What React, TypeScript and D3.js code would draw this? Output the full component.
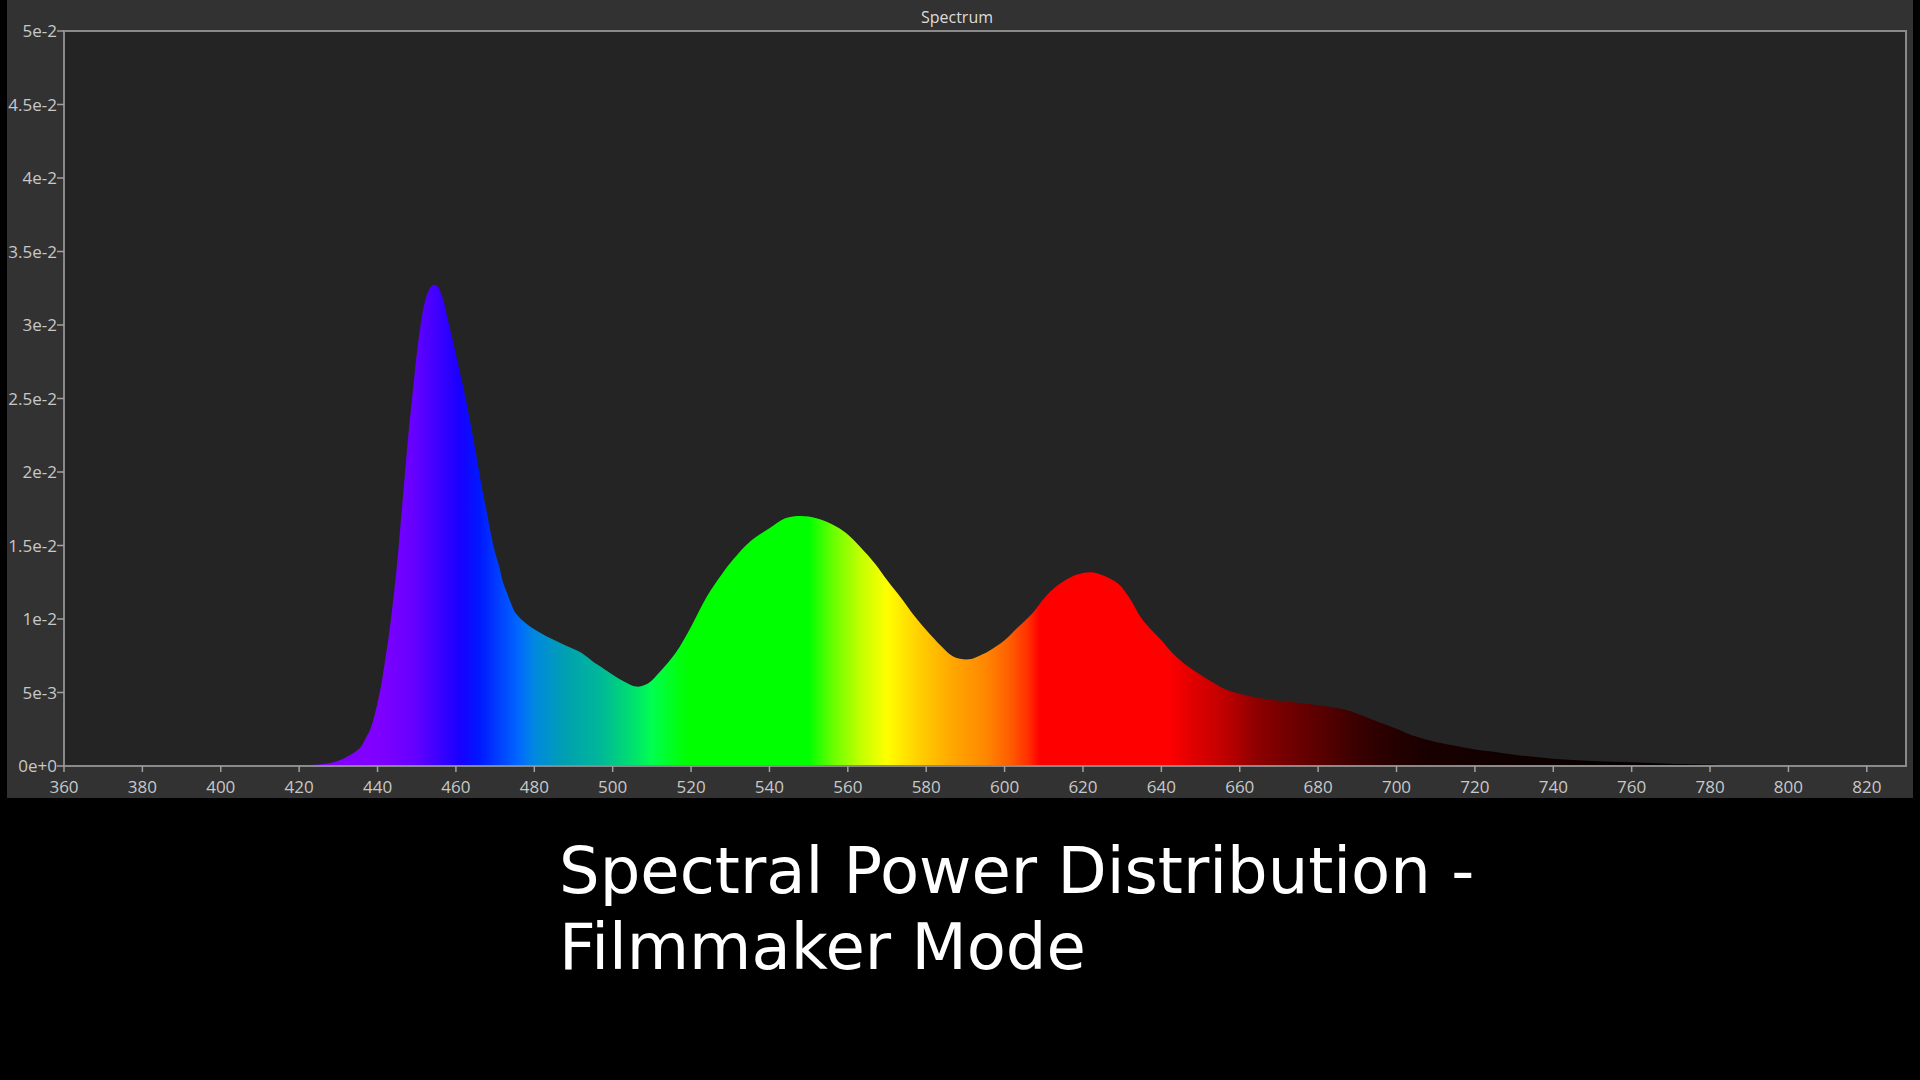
import React from "react";
import * as d3 from "d3";

const wavelengths = [
  360, 400, 410, 415, 420, 425, 428, 430, 432, 434, 435, 436, 437, 438, 439,
  440, 441, 442, 443, 444, 445, 446, 447, 448, 449, 450, 451, 452, 453, 454,
  455, 456, 457, 458, 459, 460, 461, 462, 463, 464, 465, 466, 467, 468, 469,
  470, 471, 472, 473, 474, 475, 477, 480, 484, 488, 492, 495, 497, 500, 503,
  506, 509, 512, 516, 520, 524, 528, 531, 535, 540, 544, 548, 552, 557, 560,
  563, 567, 570, 574, 577, 580, 584, 587, 591, 594, 596, 600, 603, 607, 610,
  613, 617, 620, 623, 625, 629, 632, 635, 640, 643, 647, 652, 656, 660, 666,
  673, 680, 687, 690, 694, 700, 705, 710, 715, 720, 724, 730, 740, 750, 760,
  770, 780, 785, 790, 830,
];

const power = [
  0, 0, 0.00001, 0.00002, 0.00005, 0.0001, 0.0002, 0.00035, 0.0006, 0.0009, 0.0011, 0.0014, 0.0019, 0.0024, 0.0032,
  0.0043, 0.0056, 0.0073, 0.0091, 0.0113, 0.0138, 0.0168, 0.0199, 0.0229, 0.0255, 0.028, 0.03, 0.0315, 0.0323, 0.0327,
  0.0327, 0.0323, 0.0315, 0.0303, 0.0292, 0.028, 0.0268, 0.0256, 0.0243, 0.0229, 0.0214, 0.0199, 0.0184, 0.0171, 0.0157,
  0.0145, 0.0136, 0.0125, 0.0118, 0.0111, 0.0105, 0.0099, 0.0093, 0.0087, 0.0082, 0.0077, 0.0071, 0.00675, 0.0062, 0.00573,
  0.0054, 0.00562, 0.0064, 0.00767, 0.00948, 0.01152, 0.0131, 0.01413, 0.01526, 0.01617, 0.01685, 0.01701, 0.01685, 0.0163, 0.01575,
  0.01495, 0.01375, 0.01265, 0.0113, 0.0102, 0.00925, 0.00811, 0.00743, 0.00726, 0.00755, 0.00782, 0.00855, 0.00934, 0.01036, 0.01138,
  0.01218, 0.01286, 0.01313, 0.01315, 0.01297, 0.0124, 0.01138, 0.01002, 0.00855, 0.00764, 0.00673, 0.00587, 0.00526, 0.00492, 0.00458,
  0.00435, 0.00413, 0.00383, 0.00356, 0.00315, 0.00254, 0.002, 0.00163, 0.00138, 0.00113, 0.001, 0.00077, 0.0005, 0.00034, 0.00025,
  0.00016, 0.0001, 0.00003, 0, 0,
];

const xTicks = [360, 380, 400, 420, 440, 460, 480, 500, 520, 540, 560, 580, 600, 620, 640, 660, 680, 700, 720, 740, 760, 780, 800, 820];
const yTickValues = [0, 0.005, 0.01, 0.015, 0.02, 0.025, 0.03, 0.035, 0.04, 0.045, 0.05];
const yTickLabels = ["0e+0", "5e-3", "1e-2", "1.5e-2", "2e-2", "2.5e-2", "3e-2", "3.5e-2", "4e-2", "4.5e-2", "5e-2"];

const stopWavelengths = [
  360, 420, 440, 449, 455, 461, 466, 471, 476, 480, 488, 497, 505, 510, 517, 520, 550, 556, 563, 570,
  578, 586, 595, 601, 606, 609, 642, 648, 656, 664, 673, 681, 690, 698, 707, 724, 760, 830,
];
const stopColors = [
  "#8800ff", "#8800ff", "#8000ff", "#6800ff", "#4000ff", "#1800ff", "#0018ff", "#0040ff", "#0068ff", "#0088e0",
  "#00a0b0", "#00b898", "#00e070", "#00ff50", "#00ff10", "#00ff00", "#00ff00", "#66ff00", "#c0ff00", "#ffff00",
  "#ffd000", "#ffaa00", "#ff8800", "#ff6000", "#ff3000", "#ff0000", "#ff0000", "#e00000", "#c00000", "#900000",
  "#700000", "#580000", "#3a0000", "#280000", "#1a0000", "#120000", "#060000", "#000000",
];

const chartTitle = "Spectrum";
const captionLines = ["Spectral Power Distribution -", "Filmmaker Mode"];

export default function App() {
  const W = 1920;
  const H = 1080;
  const left = 64;
  const right = 1906;
  const top = 31;
  const bottom = 766;

  const x = d3.scaleLinear().domain([360, 830]).range([left, right]);
  const y = d3.scaleLinear().domain([0, 0.05]).range([bottom, top]);

  const data = wavelengths.map((w, i) => ({ w, v: power[i] }));
  const area = d3
    .area<{ w: number; v: number }>()
    .x((d) => x(d.w))
    .y0(y(0))
    .y1((d) => Math.min(y(0), y(d.v)))
    .curve(d3.curveCatmullRom.alpha(0.5));

  const [d0, d1] = x.domain();
  const tickFont = "'Open Sans', 'Noto Sans', sans-serif";

  return (
    <div style={{ position: "fixed", left: 0, top: 0, width: W, height: H, background: "#000" }}>
      <svg width={W} height={H} style={{ display: "block" }}>
        <defs>
          <linearGradient id="spec" gradientUnits="userSpaceOnUse" x1={x(d0)} x2={x(d1)} y1={0} y2={0}>
            {stopWavelengths.map((w, i) => (
              <stop key={i} offset={(w - d0) / (d1 - d0)} stopColor={stopColors[i]} />
            ))}
          </linearGradient>
          <clipPath id="plotClip">
            <rect x={left} y={top} width={right - left} height={bottom - top} />
          </clipPath>
        </defs>
        <rect x={0} y={0} width={W} height={H} fill="#000" />
        <rect x={7} y={0} width={1906} height={798} fill="#323232" />
        <rect x={left} y={top} width={right - left} height={bottom - top} fill="#242424" />
        <path d={area(data) || ""} fill="url(#spec)" clipPath="url(#plotClip)" />
        <rect
          x={left}
          y={top}
          width={right - left}
          height={bottom - top}
          fill="none"
          stroke="#8a8a8a"
          strokeWidth={2}
        />
        <text x={957} y={22.5} textAnchor="middle" fill="#dcdcdc" fontSize={16} fontFamily={tickFont}>
          {chartTitle}
        </text>
        {yTickValues.map((v, i) => (
          <g key={"y" + i}>
            <line x1={left - 7} x2={left} y1={y(v)} y2={y(v)} stroke="#a0a0a0" strokeWidth={1.5} />
            <text
              x={left - 7}
              y={y(v)}
              dy="0.36em"
              textAnchor="end"
              fill="#c8c8c8"
              fontSize={17}
              fontFamily={tickFont}
            >
              {yTickLabels[i]}
            </text>
          </g>
        ))}
        {xTicks.map((t) => (
          <g key={"x" + t}>
            <line x1={x(t)} x2={x(t)} y1={bottom} y2={bottom + 6} stroke="#a0a0a0" strokeWidth={1.5} />
            <text x={x(t)} y={792.5} textAnchor="middle" fill="#c8c8c8" fontSize={17} fontFamily={tickFont}>
              {t}
            </text>
          </g>
        ))}
        {captionLines.map((line, i) => (
          <text
            key={"c" + i}
            x={559}
            y={893 + i * 76}
            fill="#ffffff"
            fontSize={64}
            fontFamily="'DejaVu Sans', sans-serif"
          >
            {line}
          </text>
        ))}
      </svg>
    </div>
  );
}
